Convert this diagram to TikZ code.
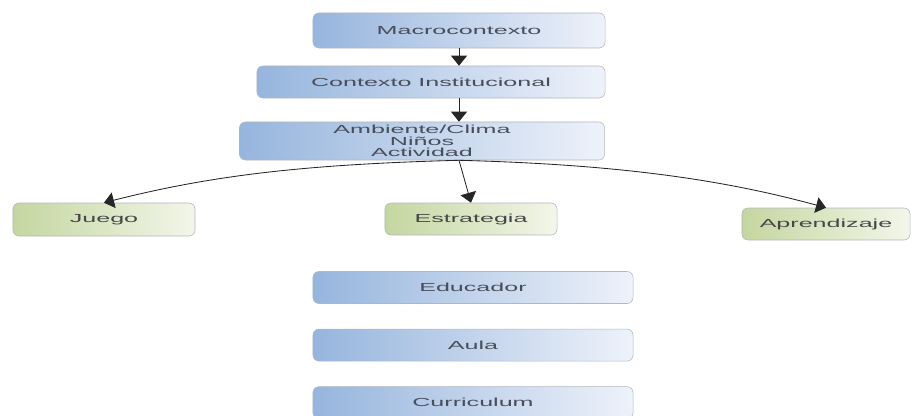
\documentclass[tikz,border=0pt]{standalone}
\usepackage{fontspec}
\setmainfont[FakeStretch=2.15]{Liberation Sans}
\usetikzlibrary{arrows.meta, positioning}
\definecolor{bluedark}{RGB}{150,181,221}
\definecolor{bluelight}{RGB}{238,242,250}
\definecolor{greendark}{RGB}{196,214,160}
\definecolor{greenlight}{RGB}{243,246,234}
\definecolor{boxline}{RGB}{178,182,190}
\definecolor{txtgray}{RGB}{72,78,90}

\begin{document}
\begin{tikzpicture}[
  x=0.025cm, y=-0.025cm,
  level/.style={draw=boxline, rounded corners=1.5mm, left color=bluedark, right color=bluelight, text=txtgray, font=\fontsize{8.3}{8.3}\selectfont, align=center, inner sep=0pt, minimum height=0.8cm},
  leaf/.style={level, left color=greendark, right color=greenlight, text=black!72},
  arrow/.style={-{Triangle[width=4mm,length=2.5mm]}, semithick, black!85}
]
  \useasboundingbox (0,0) rectangle (912,415);

  \node[level, minimum width=7.3cm, minimum height=0.875cm] (macro) at (459,30.5) {Macrocontexto};
  \node[level, minimum width=8.7cm] (ctx) at (431,82) {Contexto Institucional};
  \node[level, minimum width=9.125cm, minimum height=0.95cm] (amb) at (422,141) {Ambiente/Clima\\Niños\\Actividad};

  \node[leaf, minimum width=4.55cm, minimum height=0.825cm] (juego) at (104,219.5) {Juego};
  \node[leaf, minimum width=4.3cm] (estr) at (471,219) {Estrategia};
  \node[leaf, minimum width=4.2cm] (apr) at (826,224) {Aprendizaje};

  \node[level, minimum width=8.0cm] (educ) at (473,287.5) {Educador};
  \node[level, minimum width=8.0cm, below=0.625cm of educ] (aula) {Aula};
  \node[level, minimum width=8.0cm, below=0.625cm of aula] (curr) {Curriculum};

  \coordinate (fork) at (macro.south |- amb.south);
  \draw[arrow] (macro.south) -- (macro.south |- ctx.north);
  \draw[arrow] (macro.south |- ctx.south) -- (macro.south |- amb.north);
  % the side branches leave the fork almost flat
  \draw[arrow] (fork) .. controls +(-150,4) and +(110,-28) .. (juego.north);
  \draw[arrow] (fork) -- (estr.north);
  \draw[arrow] (fork) .. controls +(150,4) and +(-110,-30) .. (apr.north);
\end{tikzpicture}
\end{document}
